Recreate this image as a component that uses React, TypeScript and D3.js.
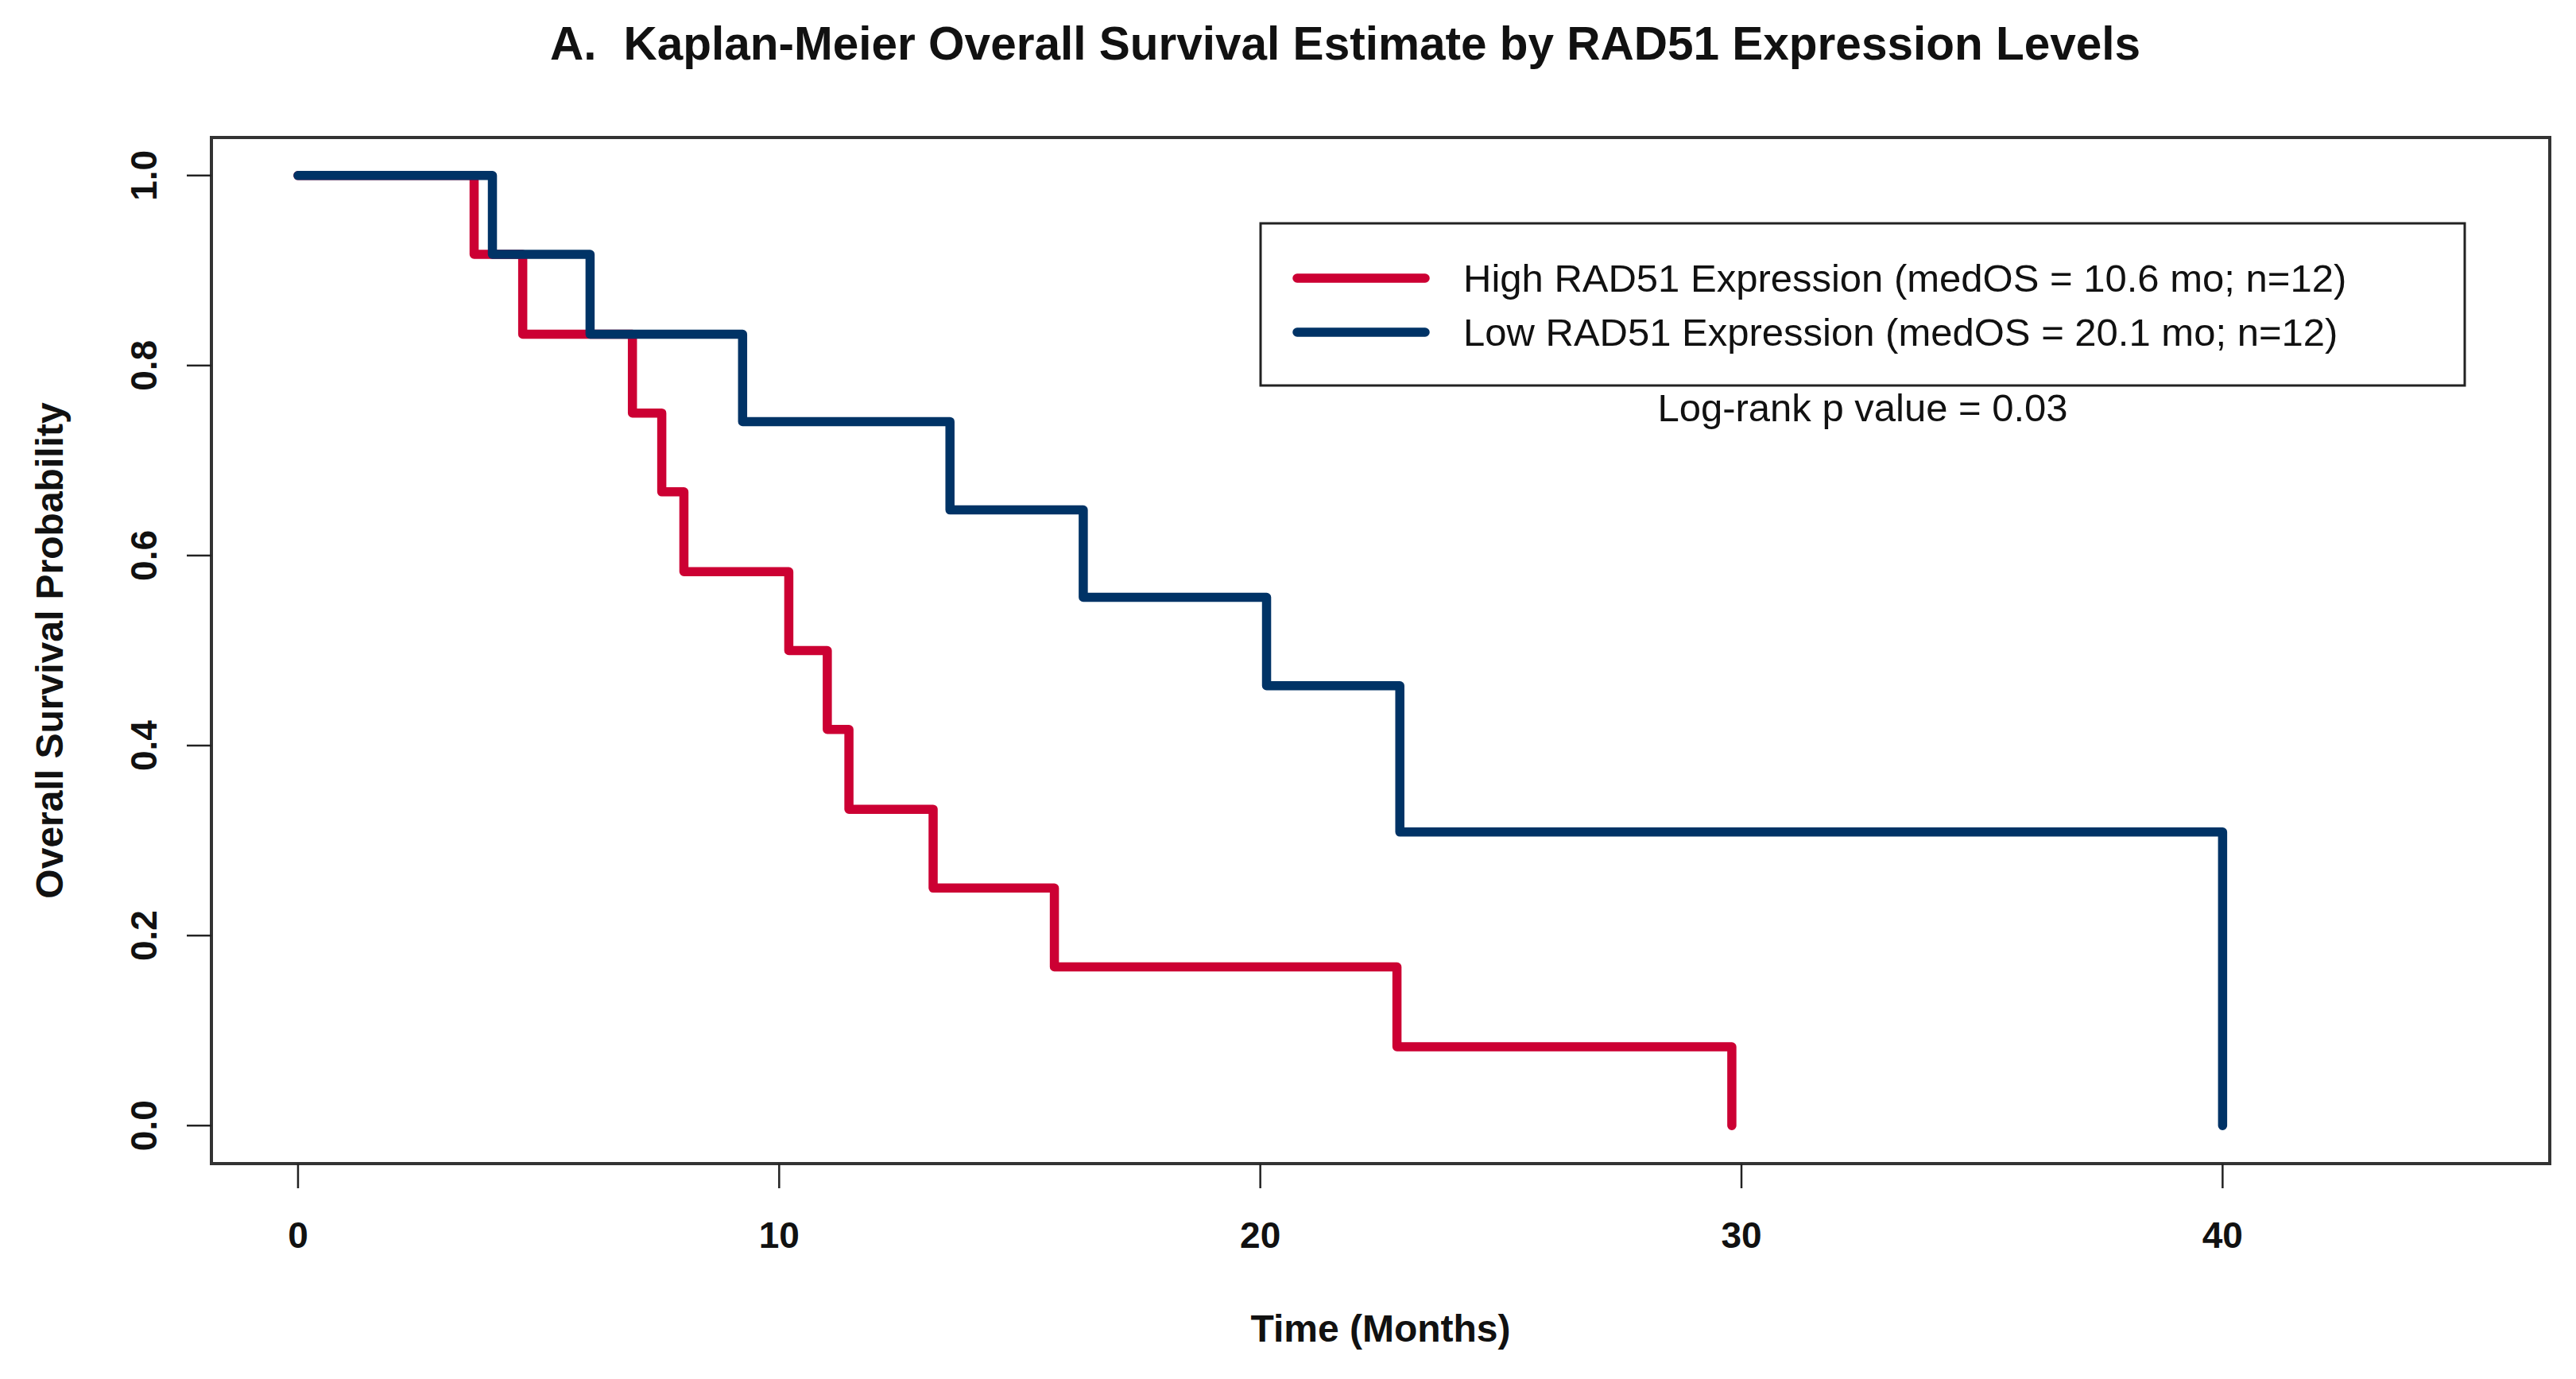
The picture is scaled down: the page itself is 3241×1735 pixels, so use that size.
import { useMemo } from 'react';
import * as d3 from 'd3';

// Kaplan-Meier step data (event time in months, survival after the event)
const highTimes = [3.66, 4.67, 6.95, 7.56, 8.02, 10.2, 11.0, 11.45, 13.2, 15.72, 22.84, 29.8];
const highSurv = [0.917, 0.833, 0.75, 0.667, 0.583, 0.5, 0.417, 0.333, 0.25, 0.167, 0.083, 0];
const lowTimes = [4.04, 6.07, 9.24, 13.55, 16.32, 20.13, 22.9, 40.0];
const lowSurv = [0.917, 0.833, 0.741, 0.648, 0.556, 0.463, 0.309, 0];

const xTicks = [0, 10, 20, 30, 40];
const yTicks = [0, 0.2, 0.4, 0.6, 0.8, 1.0];

const legendLabels = [
	'High RAD51 Expression (medOS = 10.6 mo; n=12)',
	'Low RAD51 Expression (medOS = 20.1 mo; n=12)',
];
const seriesColors = ['#cc0033', '#003366'];

const W = 3241;
const H = 1735;
const FONT = '"Liberation Sans", Arial, Helvetica, sans-serif';

// plot box in pixels
const box = { left: 266, right: 3208, top: 173, bottom: 1464 };

export default function App() {
	// R style axes: xlim c(0,45) and ylim c(0,1), both padded 4%
	const x = useMemo(() => d3.scaleLinear().domain([-1.8, 46.8]).range([box.left, box.right]), []);
	const y = useMemo(() => d3.scaleLinear().domain([-0.04, 1.04]).range([box.bottom, box.top]), []);

	const line = d3
		.line<[number, number]>()
		.x((d) => x(d[0]))
		.y((d) => y(d[1]))
		.curve(d3.curveStepAfter);

	const toPoints = (times: number[], surv: number[]): [number, number][] => [
		[0, 1],
		...times.map((t, i) => [t, surv[i]] as [number, number]),
	];

	const curves = [toPoints(highTimes, highSurv), toPoints(lowTimes, lowSurv)];

	const legend = { left: 1586, right: 3101, top: 281, bottom: 485 };
	const legendRows = [350, 418];

	return (
		<svg
			width={W}
			height={H}
			style={{ position: 'absolute', left: 0, top: 0, background: '#fff' }}
			fontFamily={FONT}
		>
			<rect x={0} y={0} width={W} height={H} fill="#fff" />

			{/* title */}
			<text x={692} y={75} fontSize={58.5} fontWeight="bold" fill="#111">
				<tspan>A.</tspan>
				<tspan dx={34}>Kaplan-Meier Overall Survival Estimate by RAD51 Expression Levels</tspan>
			</text>

			{/* survival curves, high first so low sits on top */}
			{curves.map((pts, i) => (
				<path
					key={i}
					d={line(pts) ?? ''}
					fill="none"
					stroke={seriesColors[i]}
					strokeWidth={11.5}
					strokeLinejoin="round"
					strokeLinecap="round"
				/>
			))}

			{/* plot frame */}
			<rect
				x={box.left}
				y={box.top}
				width={box.right - box.left}
				height={box.bottom - box.top}
				fill="none"
				stroke="#333"
				strokeWidth={4}
			/>

			{/* x axis */}
			{xTicks.map((t) => (
				<g key={t}>
					<line x1={x(t)} x2={x(t)} y1={box.bottom} y2={box.bottom + 31} stroke="#222" strokeWidth={2.5} />
					<text x={x(t)} y={1570} fontSize={46} fontWeight="bold" textAnchor="middle" fill="#111">
						{t}
					</text>
				</g>
			))}
			<text x={(box.left + box.right) / 2} y={1688} fontSize={48} fontWeight="bold" textAnchor="middle" fill="#111">
				Time (Months)
			</text>

			{/* y axis */}
			{yTicks.map((t) => (
				<g key={t}>
					<line x1={box.left - 31} x2={box.left} y1={y(t)} y2={y(t)} stroke="#222" strokeWidth={2.5} />
					<text
						transform={`translate(197, ${y(t)}) rotate(-90)`}
						fontSize={46}
						fontWeight="bold"
						textAnchor="middle"
						fill="#111"
					>
						{t.toFixed(1)}
					</text>
				</g>
			))}
			<text
				transform={`translate(79, ${(box.top + box.bottom) / 2}) rotate(-90)`}
				fontSize={48}
				fontWeight="bold"
				textAnchor="middle"
				fill="#111"
			>
				Overall Survival Probability
			</text>

			{/* legend */}
			<rect
				x={legend.left}
				y={legend.top}
				width={legend.right - legend.left}
				height={legend.bottom - legend.top}
				fill="#fff"
				stroke="#222"
				strokeWidth={3}
			/>
			{legendLabels.map((label, i) => (
				<g key={label}>
					<line
						x1={1632}
						x2={1793}
						y1={legendRows[i]}
						y2={legendRows[i]}
						stroke={seriesColors[i]}
						strokeWidth={11.5}
						strokeLinecap="round"
					/>
					<text x={1841} y={legendRows[i] + 17} fontSize={49} fill="#111">
						{label}
					</text>
				</g>
			))}
			<text x={(legend.left + legend.right) / 2} y={530} fontSize={49} textAnchor="middle" fill="#111">
				Log-rank p value = 0.03
			</text>
		</svg>
	);
}
